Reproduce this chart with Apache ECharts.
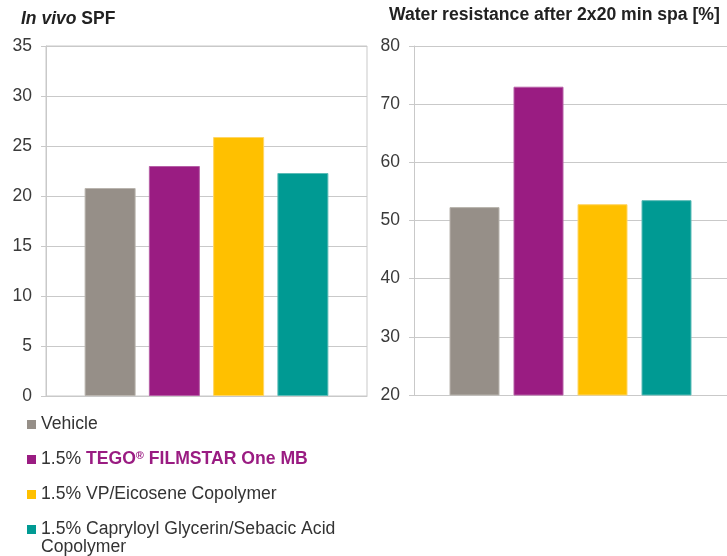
<!DOCTYPE html>
<html>
<head>
<meta charset="utf-8">
<script src="https://cdn.jsdelivr.net/npm/echarts@6/dist/echarts.min.js"></script>
<style>
html,body{margin:0;padding:0;background:#fff;}
#chart{width:727px;height:556px;}
</style>
</head>
<body>
<div id="chart"></div>
<script>
// Data
var products = ['Vehicle', '1.5% TEGO\u00AE FILMSTAR One MB', '1.5% VP/Eicosene Copolymer', '1.5% Capryloyl Glycerin/Sebacic Acid Copolymer'];
var spfValues = [20.8, 23.0, 25.9, 22.3];
var waterValues = [52.3, 73.0, 52.8, 53.5];
var spfAxis = { min: 0, max: 35, interval: 5 };
var waterAxis = { min: 20, max: 80, interval: 10 };
var colors = ['#968f88', '#9a1c82', '#ffc000', '#009a93'];
var borders = ['#b9b4ae', '#b65fa6', '#ffd666', '#5cbcb7'];

var FONT = 'Liberation Sans, Arial, sans-serif';
var GRID_C = '#c9c9c9';
var LFS = 17.6;

function yAxisCfg(gridIndex, cfg) {
  return {
    type: 'value', gridIndex: gridIndex,
    min: cfg.min, max: cfg.max, interval: cfg.interval,
    axisLine: { show: true, lineStyle: { color: GRID_C, width: 1 } },
    axisTick: { show: true, length: 5, lineStyle: { color: GRID_C } },
    splitLine: { show: true, lineStyle: { color: GRID_C, width: 1 } },
    axisLabel: { color: '#3a3a3a', fontSize: 17.5, fontFamily: FONT, margin: 14 }
  };
}
function xAxisCfg(gridIndex) {
  return {
    type: 'category', gridIndex: gridIndex, data: [''],
    axisLine: { show: true, lineStyle: { color: GRID_C } },
    axisTick: { show: false }, axisLabel: { show: false }
  };
}

var series = [];
products.forEach(function (name, i) {
  series.push({
    name: name, type: 'bar', xAxisIndex: 0, yAxisIndex: 0,
    data: [spfValues[i]], barWidth: 51, barGap: '26%',
    itemStyle: { color: colors[i], borderColor: borders[i], borderWidth: 1 },
    animation: false
  });
});
products.forEach(function (name, i) {
  series.push({
    name: name, type: 'bar', xAxisIndex: 1, yAxisIndex: 1,
    data: [waterValues[i]], barWidth: 50, barGap: '28%',
    itemStyle: { color: colors[i], borderColor: borders[i], borderWidth: 1 },
    animation: false
  });
});

var chart = echarts.init(document.getElementById('chart'), null, { renderer: 'canvas' });
chart.setOption({
  animation: false,
  color: colors,
  title: [
    {
      text: '{i|In vivo}{n| SPF}', left: 21, top: 10, padding: 0,
      textStyle: {
        rich: {
          i: { fontStyle: 'italic', fontWeight: 'bold', fontSize: 17.5, color: '#222', fontFamily: FONT },
          n: { fontWeight: 'bold', fontSize: 17.5, color: '#222', fontFamily: FONT }
        }
      }
    },
    {
      text: 'Water resistance after 2x20 min spa [%]', left: 389, top: 6, padding: 0,
      textStyle: { fontWeight: 'bold', fontSize: 17.6, color: '#222', fontFamily: FONT }
    },
    {
      text: 'Copolymer', left: 41, top: 538, padding: 0,
      textStyle: { fontWeight: 'normal', fontSize: LFS, color: '#333', fontFamily: FONT, lineHeight: 19 }
    }
  ],
  grid: [
    { left: 46, top: 46, right: 360, bottom: 160, show: true, borderColor: GRID_C, borderWidth: 1, backgroundColor: 'transparent' },
    { left: 414, top: 46, right: -3, bottom: 161 }
  ],
  xAxis: [xAxisCfg(0), xAxisCfg(1)],
  yAxis: [yAxisCfg(0, spfAxis), yAxisCfg(1, waterAxis)],
  legend: {
    orient: 'vertical', left: 27, top: 415, width: 400, height: 260, padding: 0,
    itemWidth: 9, itemHeight: 9, itemGap: 16, icon: 'rect',
    itemStyle: { borderWidth: 0 },
    selectedMode: false,
    textStyle: { fontSize: LFS, color: '#333', fontFamily: FONT, lineHeight: 19,
      rich: {
        d: { fontSize: LFS, color: '#333', fontFamily: FONT, lineHeight: 19 },
        p: { fontSize: LFS, color: '#9a1c82', fontWeight: 'bold', fontFamily: FONT, lineHeight: 19 },
        s: { fontSize: 11, color: '#9a1c82', fontWeight: 'bold', fontFamily: FONT, verticalAlign: 'top', lineHeight: 19 }
      }
    },
    data: products.slice(),
    formatter: function (name) {
      if (name === products[1]) {
        return '{d|1.5% }{p|TEGO}{s|\u00AE}{p| FILMSTAR One MB}';
      }
      if (name === products[3]) {
        return '1.5% Capryloyl Glycerin/Sebacic Acid';
      }
      return name;
    }
  },
  series: series
});
</script>
</body>
</html>
